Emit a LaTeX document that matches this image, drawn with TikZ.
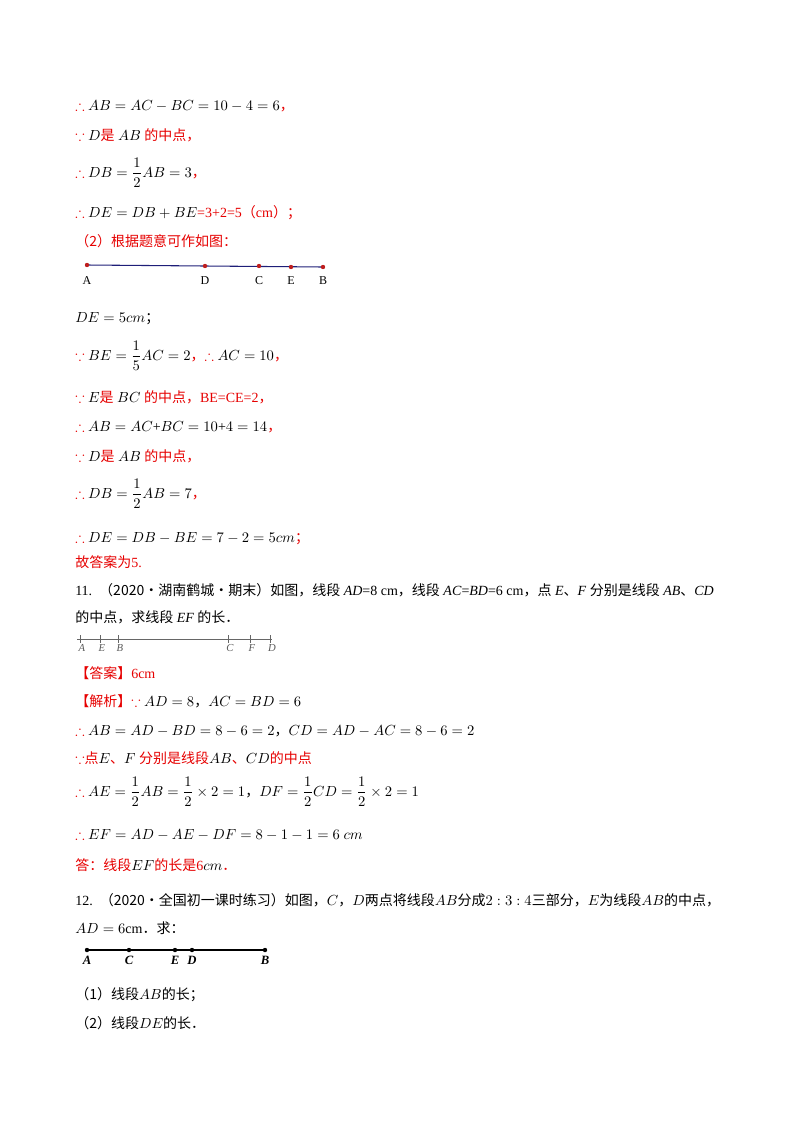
\documentclass[tikz,border=0pt]{standalone}
\usepackage{amsmath}
\usepackage{amssymb}
\usepackage{fontspec}
\setmainfont{Liberation Serif}
\newfontfamily\cjk{Noto Sans CJK SC}
\newcommand\cn[1]{{\cjk #1}}
\newcommand\bk[1]{\textcolor{black}{#1}}
\definecolor{ansred}{RGB}{230,0,0}
\definecolor{segblue}{RGB}{30,30,120}
\definecolor{dotred}{RGB}{190,30,30}
\usetikzlibrary{positioning}

\begin{document}
\begin{tikzpicture}[x=0.75pt,y=-0.75pt,
  txt/.style={anchor=base west,inner sep=0pt,font=\fontsize{10.5}{12}\selectfont},
  ans/.style={txt,text=ansred},
  lbl/.style={font=\fontsize{9}{10}\selectfont,inner sep=0pt}]
\useasboundingbox (0,0) rectangle (800,1132);
% first part
\node[ans] (l1) at (75,110) {$\therefore$ \bk{$AB=AC-BC=10-4=6$}\cn{，}};
\node[ans] (l2) at (75,140) {$\because$ \bk{$D$}\cn{是} \bk{$AB$} \cn{的中点，}};
\node[ans] (l3) at (75,177) {$\therefore$ \bk{$DB=\dfrac{1}{2}AB=3$}\cn{，}};
\node[ans] (l4) at (75,217) {$\therefore$ \bk{$DE=DB+BE$}=3+2=5\cn{（}cm\cn{）；}};
\node[ans] (l5) at (75,246) {\cn{（2）根据题意可作如图：}};
% segment A D C E B
\draw[segblue,thick] (87,265) -- (323,267);
\foreach \nm/\px/\py in {A/87/265,D/205/266,C/259/266,E/291/267,B/323/267}{
  \fill[dotred] (\px,\py) circle (2.2);
  \node[lbl] (p\nm) at (\px,281) {\nm};
}
\node[txt] (l6) at (75,322) {$DE=5cm$\cn{；}};
\node[ans] (l7) at (75,360) {$\because$ \bk{$BE=\dfrac{1}{5}AC=2$}\cn{，}$\therefore$ \bk{$AC=10$}\cn{，}};
\node[ans] (l8) at (75,402) {$\because$ \bk{$E$}\cn{是} \bk{$BC$} \cn{的中点，}BE=CE=2\cn{，}};
\node[ans] (l9) at (75,431) {$\therefore$ \bk{$AB=AC$+$BC=10$+$4=14$}\cn{，}};
\node[ans] (l10) at (75,461) {$\because$ \bk{$D$}\cn{是} \bk{$AB$} \cn{的中点，}};
\node[ans] (l11) at (75,498) {$\therefore$ \bk{$DB=\dfrac{1}{2}AB=7$}\cn{，}};
\node[ans] (l12) at (75,542) {$\therefore$ \bk{$DE=DB-BE=7-2=5cm$}\cn{；}};
\node[ans] (l13) at (75,567) {\cn{故答案为}5.};
% problem 11
\node[txt] (q11a) at (75,595) {11.\enspace\cn{（2020·湖南鹤城·期末）如图，线段} \textit{AD}=8 cm\cn{，线段} \textit{AC}=\textit{BD}=6 cm\cn{，点} \textit{E}\cn{、}\textit{F} \cn{分别是线段} \textit{AB}\cn{、}\textit{CD}};
\node[txt] (q11b) at (75,622) {\cn{的中点，求线段} \textit{EF} \cn{的长．}};
\draw[gray!80!black] (77,639) -- (272,639);
\foreach \nm/\px in {A/80,E/100,B/118,C/228,F/250,D/270}{
  \draw[gray!80!black] (\px,635) -- (\px,643);
  \node[lbl,font=\fontsize{8}{9}\selectfont\itshape,text=gray!70!black] (s\nm) at (\px+2,648) {\nm};
}
\node[ans] (l14) at (75,678) {\cn{【答案】}6cm};
\node[ans] (l15) at (75,706) {\cn{【解析】}$\because$ \bk{$AD=8$\cn{，}$AC=BD=6$}};
\node[ans] (l16) at (75,735) {$\therefore$ \bk{$AB=AD-BD=8-6=2$\cn{，}$CD=AD-AC=8-6=2$}};
\node[ans] (l17) at (75,763) {$\because$\cn{点}\bk{$E$}\cn{、}\bk{$F$} \cn{分别是线段}\bk{$AB$}\cn{、}\bk{$CD$}\cn{的中点}};
\node[ans] (l18) at (75,796) {$\therefore$ \bk{$AE=\dfrac{1}{2}AB=\dfrac{1}{2}\times2=1$\cn{，}$DF=\dfrac{1}{2}CD=\dfrac{1}{2}\times2=1$}};
\node[ans] (l19) at (75,839) {$\therefore$ \bk{$EF=AD-AE-DF=8-1-1=6\ cm$}};
\node[ans] (l20) at (75,870) {\cn{答：线段}\bk{$EF$}\cn{的长是}6\bk{$cm$}\cn{．}};
% problem 12
\node[txt] (q12a) at (75,905) {12.\enspace\cn{（2020·全国初一课时练习）如图，}$C$\cn{，}$D$\cn{两点将线段}$AB$\cn{分成}$2:3:4$\cn{三部分，}$E$\cn{为线段}$AB$\cn{的中点，}};
\node[txt] (q12b) at (75,933) {$AD=6\text{cm}$\cn{．求：}};
\draw[thick] (87,950) -- (265,950);
\foreach \nm/\px in {A/87,C/129,E/175,D/192,B/265}{
  \fill (\px,950) circle (2.2);
  \node[lbl,font=\fontsize{9.5}{10}\selectfont\bfseries\itshape] (t\nm) at (\px,960) {\nm};
}
\node[txt] (q12c) at (75,999) {\cn{（1）线段}$AB$\cn{的长；}};
\node[txt] (q12d) at (75,1028) {\cn{（2）线段}$DE$\cn{的长．}};
\end{tikzpicture}
\end{document}
